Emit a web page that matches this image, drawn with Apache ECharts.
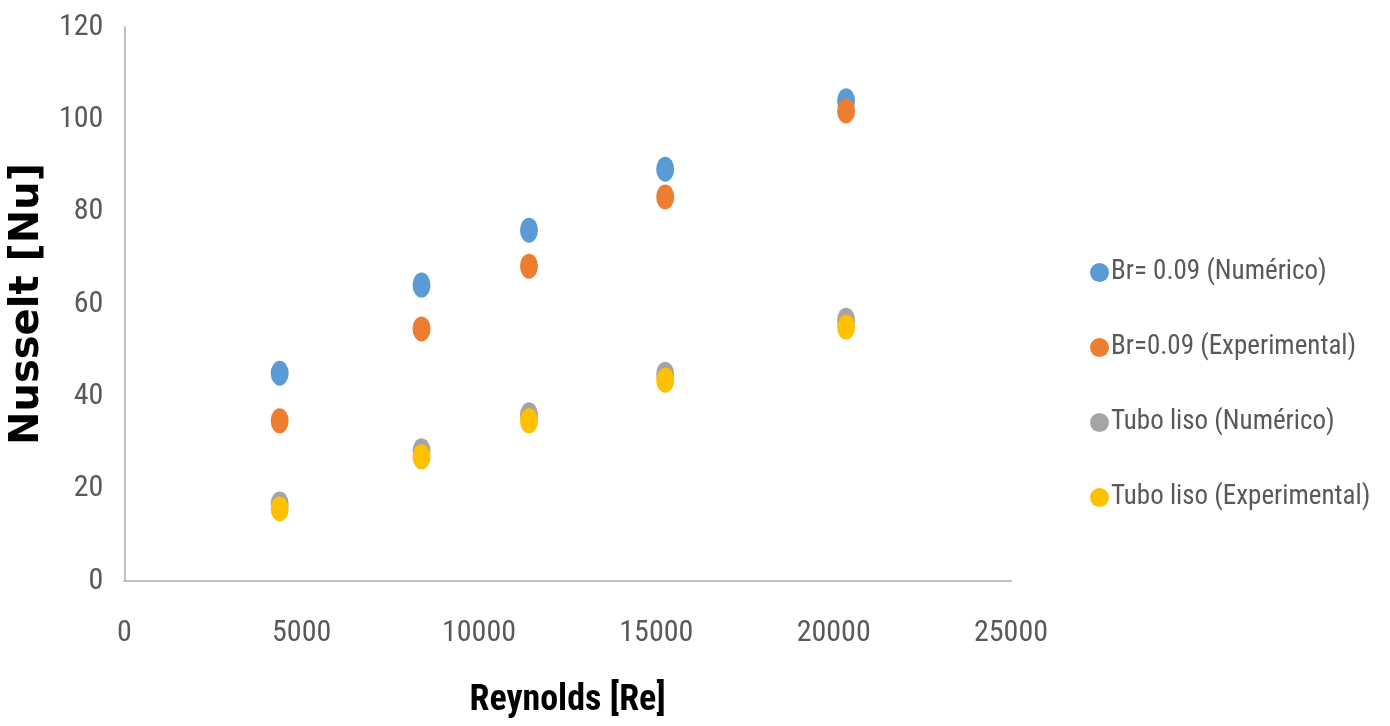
<!DOCTYPE html>
<html>
<head>
<meta charset="utf-8">
<script src="https://cdn.jsdelivr.net/npm/echarts@6/dist/echarts.min.js"></script>
<style>
html,body{margin:0;padding:0;background:#fff;}
#chart{width:1390px;height:726px;}
</style>
</head>
<body>
<div id="chart"></div>
<script>
const seriesNames = ['Br= 0.09 (Numérico)', 'Br=0.09 (Experimental)', 'Tubo liso (Numérico)', 'Tubo liso (Experimental)'];
const reynolds = [4380, 8380, 11410, 15250, 20350];
const brNumerico = [45.0, 64.1, 76.0, 89.2, 104.0];
const brExperimental = [34.7, 54.6, 68.2, 83.2, 101.8];
const lisoNumerico = [16.7, 28.2, 36.0, 44.8, 56.5];
const lisoExperimental = [15.6, 26.9, 34.7, 43.5, 55.0];
const colors = ['#5B9BD5', '#ED7D31', '#A5A5A5', '#FFC000'];
const allValues = [brNumerico, brExperimental, lisoNumerico, lisoExperimental];

const narrow = '"Liberation Sans Narrow", "Roboto Condensed", "Open Sans", sans-serif';

const chart = echarts.init(document.getElementById('chart'));
chart.setOption({
  backgroundColor: '#fff',
  animation: false,
  color: colors,
  grid: {left: 114, right: 379, top: 27, bottom: 145},
  legend: {
    orient: 'vertical',
    left: 1085,
    top: 254,
    itemGap: 48,
    itemWidth: 19,
    itemHeight: 25,
    icon: 'circle',
    textStyle: {fontFamily: narrow, fontSize: 27, color: '#595959', padding: [0, 0, 0, -3]},
    data: seriesNames
  },
  xAxis: {
    type: 'value', min: 0, max: 25000, interval: 5000,
    name: 'Reynolds [Re]', nameLocation: 'middle', nameGap: 102,
    nameTextStyle: {fontFamily: narrow, fontSize: 36, fontWeight: 'bold', color: '#000'},
    axisLine: {show: true, lineStyle: {color: '#BFBFBF', width: 2}},
    axisTick: {show: false},
    splitLine: {show: false},
    axisLabel: {fontFamily: narrow, fontSize: 30, color: '#595959', margin: 37,
      formatter: v => String(v)}
  },
  yAxis: {
    type: 'value', min: 0, max: 120, interval: 20,
    name: 'Nusselt [Nu]', nameLocation: 'middle', nameGap: 68,
    nameTextStyle: {fontFamily: '"DejaVu Sans", sans-serif', fontSize: 40, fontWeight: 'bold', color: '#000'},
    axisLine: {show: true, lineStyle: {color: '#BFBFBF', width: 2}},
    axisTick: {show: false},
    splitLine: {show: false},
    axisLabel: {fontFamily: narrow, fontSize: 30, color: '#595959', margin: 21}
  },
  series: seriesNames.map((n, i) => ({
    name: n,
    type: 'scatter',
    symbol: 'circle',
    symbolSize: [18, 25],
    itemStyle: {color: colors[i], opacity: 1},
    data: reynolds.map((x, j) => [x, allValues[i][j]])
  }))
});
</script>
</body>
</html>
